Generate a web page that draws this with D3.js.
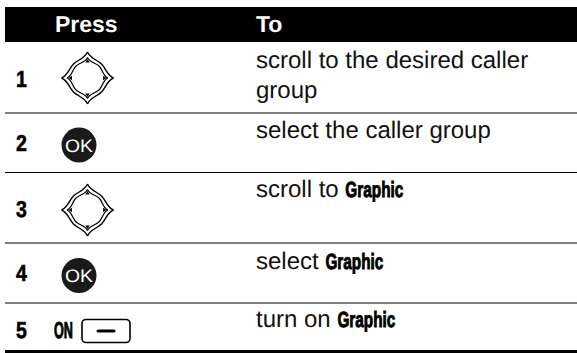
<!DOCTYPE html>
<html>
<head>
<meta charset="utf-8">
<script src="https://cdnjs.cloudflare.com/ajax/libs/d3/7.8.5/d3.min.js"></script>
<style>
  html, body { margin: 0; padding: 0; background: #fff; }
  svg { display: block; }
  text { font-family: "Liberation Sans", Arial, sans-serif; text-rendering: geometricPrecision; }
</style>
</head>
<body>
<svg id="chart" width="577" height="353"></svg>
<script>
const headers = ['Press', 'To'];
const steps = ['1', '2', '3', '4', '5'];
const keys = ['nav', 'ok', 'nav', 'ok', 'on'];
// each line of an action is a list of [text, isMenuItem] runs
const actions = [
  [[['scroll to the desired caller', false]], [['group', false]]],
  [[['select the caller group', false]]],
  [[['scroll to ', false], ['Graphic', true]]],
  [[['select ', false], ['Graphic', true]]],
  [[['turn on ', false], ['Graphic', true]]]
];

const svg = d3.select('#chart');
const rowBottoms = [113, 172.5, 243, 303, 351.5];
const ruleColors = ['#808080', '#000', '#000', '#808080', '#000'];
const ruleWidths = [2, 1, 1, 2, 3];

// header bar
svg.append('rect').attr('x', 5).attr('y', 7).attr('width', 572).attr('height', 35).attr('fill', '#000');
svg.selectAll('.head').data(headers).enter().append('text')
  .attr('class', 'head')
  .attr('x', (d, i) => i == 0 ? 55 : 256)
  .attr('y', 32)
  .attr('fill', '#fff')
  .attr('font-size', 23)
  .attr('font-weight', 'bold')
  .text(d => d);

// row rules
svg.selectAll('.rule').data(rowBottoms).enter().append('line')
  .attr('class', 'rule')
  .attr('x1', 5).attr('x2', 577)
  .attr('y1', d => d).attr('y2', d => d)
  .attr('stroke', (d, i) => ruleColors[i])
  .attr('stroke-width', (d, i) => ruleWidths[i]);

// step numbers
const numY = [87, 151, 217, 281, 338];
svg.selectAll('.num').data(steps).enter().append('text')
  .attr('class', 'num')
  .attr('x', 16)
  .attr('y', (d, i) => numY[i])
  .attr('font-size', 23)
  .attr('font-weight', 'bold')
  .attr('transform', 'translate(16,0) scale(0.85,1) translate(-16,0)')
  .attr('stroke', '#000').attr('stroke-width', 0.6)
  .text(d => d);

// four pointed outline: t = tip radius, d = radius on the diagonals
function star(t, d) {
  const c = d * Math.SQRT1_2, k = d * 0.22;
  return 'C' + t * 0.1 + ',' + (-t * 0.75) + ' ' + (c - k) + ',' + (-c - k) + ' ' + c + ',' + (-c) +
    'C' + (c + k) + ',' + (-c + k) + ' ' + t * 0.75 + ',' + (-t * 0.1) + ' ' + t + ',0';
}

function navKey(g) {
  [[26, 19.8, 1.4], [20.5, 16.6, 1.2]].forEach(s => {
    [0, 90, 180, 270].forEach(a => {
      g.append('path').attr('d', 'M0,' + (-s[0]) + star(s[0], s[1]))
        .attr('fill', 'none').attr('stroke', '#000').attr('stroke-width', s[2])
        .attr('transform', 'rotate(' + a + ')');
    });
  });
  [0, 90, 180, 270].forEach(a => {
    g.append('path').attr('d', 'M0,-19L2.2,-15.5L-2.2,-15.5Z').attr('fill', '#000').attr('transform', 'rotate(' + a + ')');
  });
}

function okKey(g) {
  g.append('circle').attr('r', 17.5).attr('fill', '#1a1a1a');
  g.append('text').attr('x', -14).attr('y', 6.5).attr('fill', '#fff')
    .attr('font-size', 18).attr('textLength', 28).attr('lengthAdjust', 'spacingAndGlyphs').text('OK');
}

function onKey(g) {
  g.append('text').attr('x', -33).attr('y', 7).attr('font-size', 23).attr('font-weight', 'bold')
    .attr('textLength', 19).attr('lengthAdjust', 'spacingAndGlyphs')
    .attr('stroke', '#000').attr('stroke-width', 1).text('ON');
  g.append('rect').attr('x', -5).attr('y', -11.5).attr('width', 48).attr('height', 23).attr('rx', 4)
    .attr('fill', '#fff').attr('stroke', '#000').attr('stroke-width', 1.6);
  g.append('line').attr('x1', 11).attr('x2', 27).attr('y1', 0).attr('y2', 0)
    .attr('stroke', '#000').attr('stroke-width', 3).attr('stroke-linecap', 'round');
}

const iconX = [87.5, 79, 87.5, 79, 87];
const iconY = [78, 145, 210, 275.5, 331];
svg.selectAll('.key').data(keys).enter().append('g')
  .attr('class', 'key')
  .attr('transform', (d, i) => 'translate(' + iconX[i] + ',' + iconY[i] + ')')
  .each(function(d) {
    const g = d3.select(this);
    if (d == 'nav') navKey(g);
    if (d == 'ok') okKey(g);
    if (d == 'on') onKey(g);
  });

// action text, one baseline per line
const lineY = [[68, 98], [138], [197], [269], [327]];
actions.forEach((lines, r) => {
  lines.forEach((runs, l) => {
    let x = 256;
    runs.forEach(run => {
      const t = svg.append('text').attr('x', x).attr('y', lineY[r][l]).attr('fill', '#111').text(run[0]);
      if (run[1]) {
        t.attr('font-size', 22).attr('font-weight', 'bold')
          .attr('textLength', 58).attr('lengthAdjust', 'spacingAndGlyphs')
          .attr('fill', '#000').attr('stroke', '#000').attr('stroke-width', 0.9);
        x += 58;
      } else {
        t.attr('font-size', 24).style('white-space', 'pre');
        x += t.node().getComputedTextLength();
      }
    });
  });
});
</script>
</body>
</html>
